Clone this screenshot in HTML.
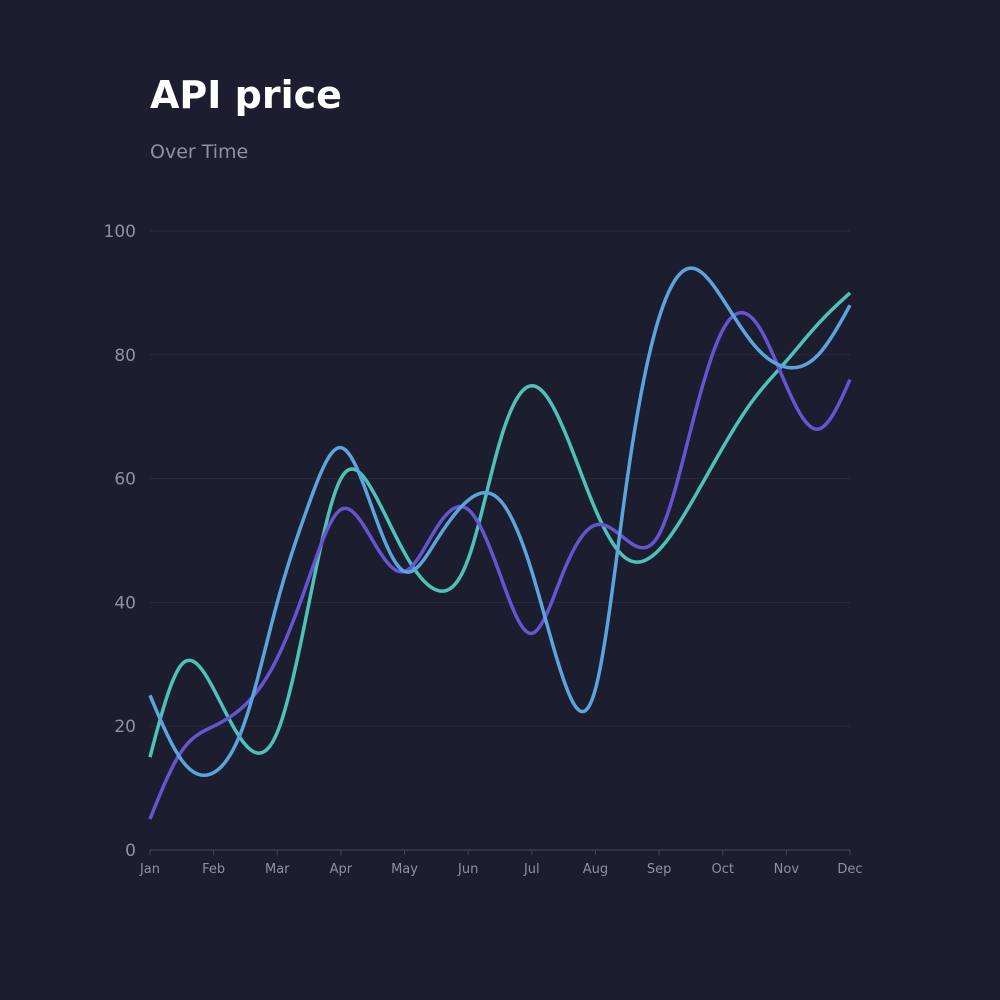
<!DOCTYPE html>
<html><head><meta charset="utf-8"><style>
html,body{margin:0;padding:0;background:#1c1d2e;}
svg{display:block;font-family:"DejaVu Sans","Liberation Sans",sans-serif;}
</style></head><body>
<svg width="1000" height="1000" viewBox="0 0 1000 1000">
<rect width="1000" height="1000" fill="#1c1d2e"/>
<text x="150" y="108" fill="#ffffff" font-size="38" font-weight="bold">API price</text>
<text x="150" y="158" fill="#8f8fa6" font-size="19">Over Time</text>
<g id="grid"></g>
<g id="xaxis"></g>
<g id="series"></g>
</svg>
<script>
const months=["Jan","Feb","Mar","Apr","May","Jun","Jul","Aug","Sep","Oct","Nov","Dec"];
const yTicks=[0,20,40,60,80,100];
// half-month samples
const tealValues=[15,30,26,17,19,40,60,58,48,42,47,66,75,68,55,47,48.5,56,65,73,79,85,90];
const blueValues=[25,14.5,12.5,21,40,56,65,55,45,50,56.5,56.5,45,27.5,26,60,86,94,89,81.5,78,80,88];
const purpleValues=[5,16,20,23.5,31,44,55,50,45,52,55,44.5,35,45,52.5,50,51,68,84,85.5,75,68,76];
const NS="http://www.w3.org/2000/svg";
const x0=150,x1=850,yb=850,yt=231;
function xs(i){return x0+(x1-x0)*i/(months.length-1);}
function ys(v){return yb-(yb-yt)*v/100;}
const grid=document.getElementById('grid');
yTicks.forEach(t=>{
  if(t>0){const l=document.createElementNS(NS,'line');
  l.setAttribute('x1',x0);l.setAttribute('x2',x1);l.setAttribute('y1',ys(t));l.setAttribute('y2',ys(t));
  l.setAttribute('stroke','#2a2b3e');l.setAttribute('stroke-width','1');
  
  
  grid.appendChild(l);}
  const tx=document.createElementNS(NS,'text');
  tx.setAttribute('x',136);tx.setAttribute('y',ys(t)+6);tx.setAttribute('text-anchor','end');
  tx.setAttribute('fill','#8f8fa6');tx.setAttribute('font-size','17');tx.textContent=t;
  
  
  grid.appendChild(tx);
});
const xa=document.getElementById('xaxis');
const al=document.createElementNS(NS,'line');
al.setAttribute('x1',x0);al.setAttribute('x2',x1);al.setAttribute('y1',yb);al.setAttribute('y2',yb);
al.setAttribute('stroke','#44455a');


xa.appendChild(al);
months.forEach((m,i)=>{
  const tk=document.createElementNS(NS,'line');
  tk.setAttribute('x1',xs(i));tk.setAttribute('x2',xs(i));tk.setAttribute('y1',yb);tk.setAttribute('y2',yb+5);
  tk.setAttribute('stroke','#44455a');
  
  
  xa.appendChild(tk);
  const tx=document.createElementNS(NS,'text');
  tx.setAttribute('x',xs(i));tx.setAttribute('y',873);tx.setAttribute('text-anchor','middle');
  tx.setAttribute('fill','#8f8fa6');tx.setAttribute('font-size','13');tx.textContent=m;
  
  
  xa.appendChild(tx);
});
function natural(ysArr){
  const n=ysArr.length;const a=ysArr.slice();const c=new Array(n).fill(0);
  const alpha=new Array(n).fill(0);
  for(let i=1;i<n-1;i++)alpha[i]=3*(a[i+1]-2*a[i]+a[i-1]);
  const l=new Array(n).fill(1),mu=new Array(n).fill(0),z=new Array(n).fill(0);
  for(let i=1;i<n-1;i++){l[i]=4-mu[i-1];mu[i]=1/l[i];z[i]=(alpha[i]-z[i-1])/l[i];}
  const b=new Array(n).fill(0),d=new Array(n).fill(0);
  for(let j=n-2;j>=0;j--){c[j]=z[j]-mu[j]*c[j+1];b[j]=(a[j+1]-a[j])-(c[j+1]+2*c[j])/3;d[j]=(c[j+1]-c[j])/3;}
  return t=>{let j=Math.min(Math.floor(t),n-2);const u=t-j;return a[j]+b[j]*u+c[j]*u*u+d[j]*u*u*u;};
}
const sg=document.getElementById('series');
[[tealValues,'#4cc2b8','line-teal'],[purpleValues,'#6654d2','line-purple'],[blueValues,'#5aa5dc','line-blue']].forEach(([vals,col,name])=>{
  const f=natural(vals);let d='';const N=vals.length-1;
  for(let k=0;k<=N*20;k++){const t=k/20;d+=(k?'L':'M')+(x0+(x1-x0)*t/N).toFixed(2)+','+ys(f(t)).toFixed(2);}
  const p=document.createElementNS(NS,'path');
  p.setAttribute('d',d);p.setAttribute('fill','none');p.setAttribute('stroke',col);p.setAttribute('stroke-width','3.5');
  
  
  sg.appendChild(p);
});
</script>
</body></html>
